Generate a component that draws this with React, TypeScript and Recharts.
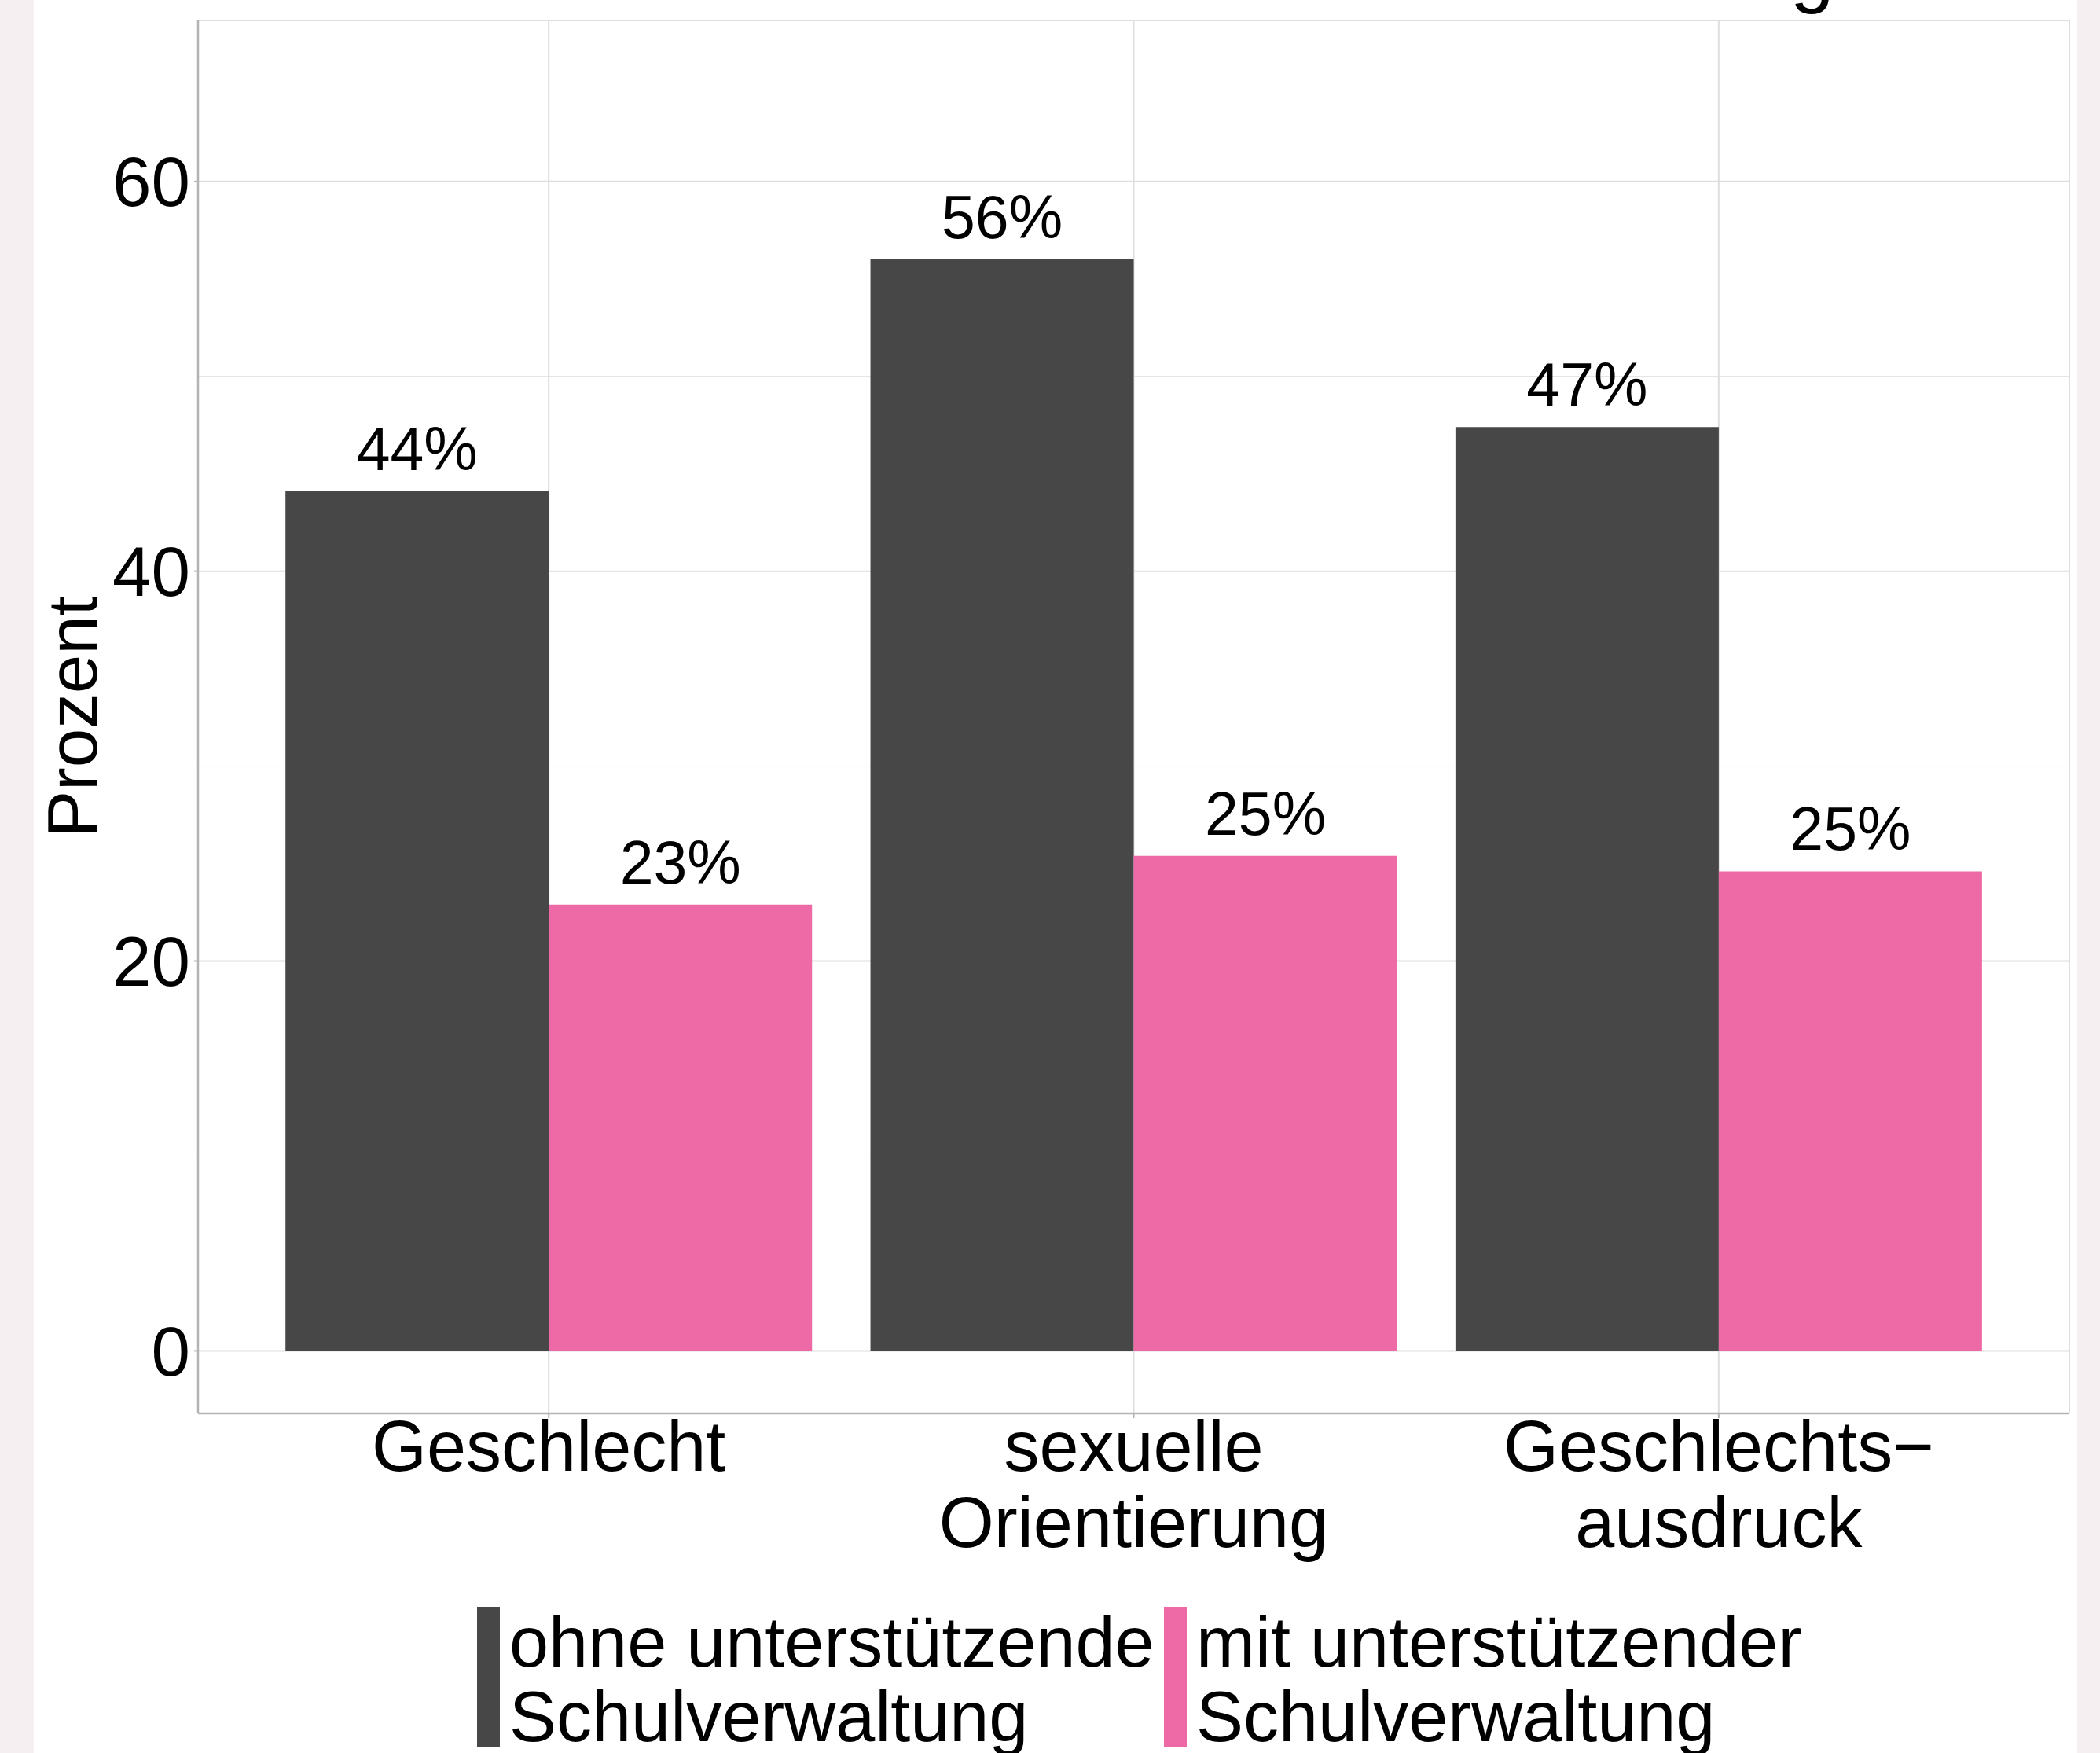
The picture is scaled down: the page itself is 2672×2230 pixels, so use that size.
import React from "react";
import {
  BarChart,
  Bar,
  XAxis,
  YAxis,
  CartesianGrid,
  LabelList,
  Legend,
} from "recharts";

const categories = ["Geschlecht", "sexuelle\nOrientierung", "Geschlechts\u2212\nausdruck"];
const ohneValues = [44.1, 56.0, 47.4];
const mitValues = [22.9, 25.4, 24.6];
const yTicks = [0, 20, 40, 60];
const yMinorTicks = [10, 30, 50];
const seriesKeys = ["ohne", "mit"];
const seriesNames = ["ohne unterst\u00fctzende\nSchulverwaltung", "mit unterst\u00fctzender\nSchulverwaltung"];

const data = categories.map((name, i) => ({
  name,
  ohne: ohneValues[i],
  mit: mitValues[i],
}));

const DARK = "#474747";
const PINK = "#EE6AA7";
const BORDER = "#B3B3B3";
const GRID = "#DEDEDE";
const FONT = "'Liberation Sans', Arial, sans-serif";

const W = 2672;
const H = 2230;

const CategoryTick = (props: any) => {
  const { x, y, payload } = props;
  const lines = String(payload.value).split("\n");
  return (
    <text x={x} y={y} textAnchor="middle" fontSize={90} fill="#000" fontFamily={FONT}>
      {lines.map((l, i) => (
        <tspan key={i} x={x} dy={i === 0 ? "0.71em" : 97}>
          {l}
        </tspan>
      ))}
    </text>
  );
};

const LEGEND_X = [607, 1481];

const renderLegend = (props: any) => {
  const items = [...(props.payload || [])].sort(
    (a: any, b: any) => seriesKeys.indexOf(a.dataKey) - seriesKeys.indexOf(b.dataKey)
  );
  return (
    <svg width={W} height={200} style={{ display: "block" }}>
      {items.map((entry: any, i: number) => {
        const lines = String(entry.value).split("\n");
        const x0 = LEGEND_X[i] ?? 607;
        return (
          <g key={i}>
            <rect x={x0} y={14} width={29} height={179} fill={entry.color} />
            <text x={x0 + 41} y={90} fontSize={90} fill="#000" fontFamily={FONT}>
              {lines.map((l, j) => (
                <tspan key={j} x={x0 + 41} dy={j === 0 ? 0 : 95}>
                  {l}
                </tspan>
              ))}
            </text>
          </g>
        );
      })}
    </svg>
  );
};

const YTitle = () => (
  <text
    x={123}
    y={912}
    transform="rotate(-90, 123, 912)"
    textAnchor="middle"
    fontSize={89}
    fill="#000"
    fontFamily={FONT}
  >
    Prozent
  </text>
);

export default function App() {
  return (
    <div
      style={{
        position: "absolute",
        left: 0,
        top: 0,
        width: W,
        height: H,
        background: "#F5EFF1",
        fontFamily: FONT,
        overflow: "hidden",
      }}
    >
      <div style={{ position: "absolute", left: 43, top: 0, width: 2600, height: H, background: "#FFFFFF" }} />
      <svg width={W} height={40} style={{ position: "absolute", left: 0, top: 0 }}>
        <text x={2278} y={-3} fontSize={100} fill="#000" fontFamily={FONT}>
          g
        </text>
      </svg>
      <div style={{ position: "absolute", left: 0, top: 0 }}>
        <BarChart
          width={W}
          height={H}
          data={data}
          margin={{ top: 26, right: 39, bottom: 232, left: 0 }}
          barCategoryGap="5%"
          barGap={0}
        >
          <CartesianGrid stroke={GRID} strokeWidth={2} horizontal vertical />
          <CartesianGrid stroke={GRID} strokeWidth={1} vertical={false} horizontalValues={yMinorTicks} />
          <XAxis
            dataKey="name"
            height={200}
            padding={{ left: 74, right: 74 }}
            tick={<CategoryTick />}
            tickSize={6}
            tickMargin={3}
            tickLine={{ stroke: BORDER, strokeWidth: 2 }}
            axisLine={{ stroke: BORDER, strokeWidth: 2.5 }}
            interval={0}
          />
          <XAxis
            xAxisId="top"
            dataKey="name"
            orientation="top"
            height={0}
            tick={false}
            tickLine={false}
            axisLine={{ stroke: BORDER, strokeWidth: 2.5 }}
          />
          <YAxis
            width={252}
            type="number"
            domain={[-3.21, 68.26]}
            allowDataOverflow
            ticks={yTicks}
            tick={{ fontSize: 89, fill: "#000", fontFamily: FONT }}
            tickSize={5}
            tickMargin={5}
            tickLine={{ stroke: BORDER, strokeWidth: 2 }}
            axisLine={{ stroke: BORDER, strokeWidth: 2.5 }}
            label={<YTitle />}
          />
          <YAxis
            yAxisId="right"
            orientation="right"
            width={0}
            domain={[-3.21, 68.26]}
            tick={false}
            tickLine={false}
            axisLine={{ stroke: BORDER, strokeWidth: 2.5 }}
          />
          <Legend
            layout="horizontal"
            verticalAlign="middle"
            align="center"
            wrapperStyle={{ left: 0, top: 2030, width: W, height: 200 }}
            content={renderLegend}
          />
          <Bar dataKey="ohne" name={seriesNames[0]} fill={DARK} isAnimationActive={false}>
            <LabelList
              dataKey="ohne"
              position="top"
              offset={27}
              formatter={(v: any) => `${Math.round(Number(v))}%`}
              fontSize={77}
              fill="#000"
              fontFamily={FONT}
            />
          </Bar>
          <Bar dataKey="mit" name={seriesNames[1]} fill={PINK} isAnimationActive={false}>
            <LabelList
              dataKey="mit"
              position="top"
              offset={27}
              formatter={(v: any) => `${Math.round(Number(v))}%`}
              fontSize={77}
              fill="#000"
              fontFamily={FONT}
            />
          </Bar>
        </BarChart>
      </div>
    </div>
  );
}
